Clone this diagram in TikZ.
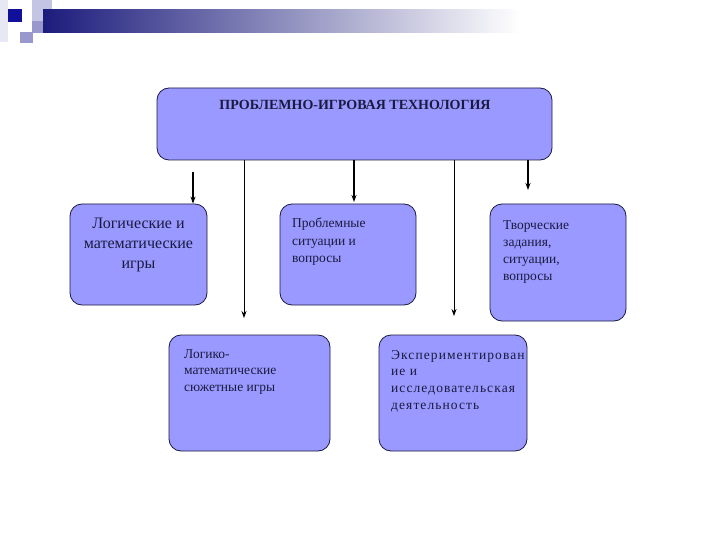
\documentclass[tikz,border=0pt]{standalone}
\usepackage{fontspec}
\setmainfont{Liberation Serif}
\usetikzlibrary{arrows.meta}
\definecolor{boxfill}{HTML}{9999FF}
\definecolor{boxline}{HTML}{1A1A40}
\definecolor{bardark}{HTML}{1C1C7C}
\definecolor{sqdark}{HTML}{10109A}
\definecolor{sqmid}{HTML}{9898CC}
\definecolor{sqlight}{HTML}{C4C4E4}
\definecolor{strip}{HTML}{E8E8F4}
\begin{document}
\begin{tikzpicture}[x=1pt, y=-1pt,
  box/.style={draw=boxline, line width=0.8pt, fill=boxfill, rounded corners=12pt, inner sep=0pt},
  txt/.style={anchor=north west, align=left, inner sep=0pt, font=\fontsize{13.5}{17.5}\selectfont, text=boxline},
  arr/.style={-{Stealth[length=7pt,width=5pt]}, line width=1.6pt},
  longarr/.style={-{Stealth[length=7pt,width=5pt]}, line width=0.8pt}]
\useasboundingbox[fill=white] (0,0) rectangle (720,540);
\fill[strip] (0,0) rectangle (8,42);
\fill[sqlight] (32,0) rectangle (52,21);
\shade[left color=bardark, right color=white] (43,10) rectangle (520,33);
\fill[sqmid] (32,21) rectangle (43,33);
\fill[sqdark] (8,9) rectangle (22,22);
\fill[sqmid] (20,32) rectangle (33,43);
\node[box, minimum width=395pt, minimum height=72pt] (top) at (354.5,124){};
\node[font=\bfseries\fontsize{14}{16}\selectfont, text=boxline] (title) at (355,105){ПРОБЛЕМНО-ИГРОВАЯ ТЕХНОЛОГИЯ};
\node[box, minimum width=137pt, minimum height=101pt] (log) at (138.5,254.5){};
\node[align=center, inner sep=0pt, font=\fontsize{16}{20}\selectfont, text=boxline] (logtxt) at (138.5,245){Логические и\\математические\\игры};
\node[box, minimum width=136pt, minimum height=101pt] (prob) at (348,254.5){};
\node[txt] (probtxt) at (292,218){Проблемные\\ситуации и\\вопросы};
\node[box, minimum width=136pt, minimum height=117pt] (tvor) at (558,262.5){};
\node[txt, font=\fontsize{13.5}{17}\selectfont] (tvortxt) at (503,220){Творческие\\задания,\\ситуации,\\вопросы};
\node[box, minimum width=161pt, minimum height=116pt] (lmsg) at (249.5,393){};
\node[txt, font=\fontsize{13.5}{16.5}\selectfont] (lmsgtxt) at (184,349){Логико-\\математические\\сюжетные игры};
\node[box, minimum width=148pt, minimum height=116pt] (exper) at (453,393){};
\node[txt, font=\fontsize{13.5}{16.8}\selectfont\addfontfeature{LetterSpace=8}] (expertxt) at (391,350){Экспериментирован\\ие и\\исследовательская\\деятельность};
\coordinate (s1) at (193,172);
\coordinate (e2) at (244,318);
\coordinate (e3) at (354,202);
\coordinate (e4) at (454,316);
\coordinate (e5) at (528,190);
\draw[arr](s1) -- (log.north -| s1);
\draw[longarr](top.south -| e2) -- (e2);
\draw[arr](top.south -| e3) -- (e3);
\draw[longarr](top.south -| e4) -- (e4);
\draw[arr](top.south -| e5) -- (e5);
\end{tikzpicture}
\end{document}
